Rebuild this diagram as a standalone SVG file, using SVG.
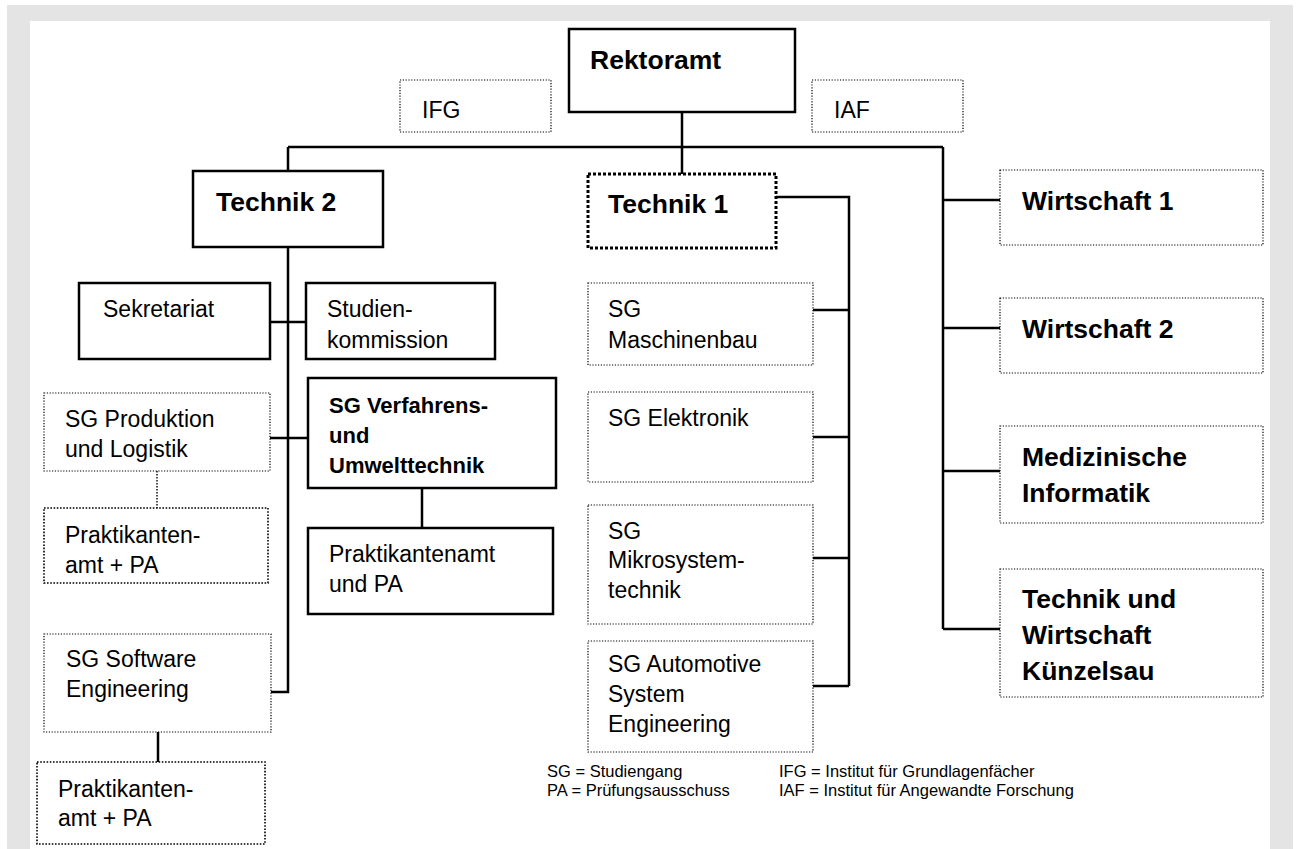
<svg xmlns="http://www.w3.org/2000/svg" width="1298" height="849" viewBox="0 0 1298 849">
<style>
text{font-family:"Liberation Sans",Arial,sans-serif;fill:#000}
.h{font-size:26.5px;font-weight:bold}
.hb{font-size:22px;font-weight:bold}
.t{font-size:23px}
.lg{font-size:16.5px}
.solid{fill:#fff;stroke:#000;stroke-width:2.5}
.dot{fill:#fff;stroke:#000;stroke-width:1.2;stroke-dasharray:1.2 1.6}
.dotm{fill:#fff;stroke:#000;stroke-width:1.6;stroke-dasharray:1.6 1.6}
.dotb{fill:#fff;stroke:#000;stroke-width:3;stroke-dasharray:3 2}
.c{fill:none;stroke:#000;stroke-width:2.5}
.cd{fill:none;stroke:#000;stroke-width:1.4;stroke-dasharray:1.4 1.6}
</style>
<rect x="0" y="0" width="1298" height="849" fill="#fff"/>
<rect x="7" y="5" width="1286" height="844" fill="#e4e4e4"/>
<rect x="30" y="21" width="1240" height="828" fill="#fff"/>

<g id="connectors">
<path class="c" d="M682 112V174"/>
<path class="c" d="M288 147H943"/>
<path class="c" d="M288 147V171M288 247V692H271"/>
<path class="c" d="M270 322H306"/>
<path class="c" d="M270 438H308"/>
<path class="c" d="M422 488V528"/>
<path class="c" d="M158 732V762"/>
<path class="cd" d="M157 471V508"/>
<path class="c" d="M776 197H849V686"/>
<path class="c" d="M813 310H849M813 437H849M813 558H849M808 686H849"/>
<path class="c" d="M943 147V629M943 200H1000M943 328H1000M943 471H1000M943 629H1000"/>
</g>

<g id="rektoramt"><rect class="solid" x="569" y="29" width="226" height="83"/><text class="h" x="590" y="69">Rektoramt</text></g>
<g id="ifg"><rect class="dot" x="400" y="80" width="151" height="52"/><text class="t" x="422" y="118">IFG</text></g>
<g id="iaf"><rect class="dot" x="812" y="80" width="151" height="52"/><text class="t" x="834" y="118">IAF</text></g>

<g id="technik2"><rect class="solid" x="193" y="171" width="190" height="76"/><text class="h" x="216" y="211">Technik 2</text></g>
<g id="sekretariat"><rect class="solid" x="79" y="283" width="191" height="76"/><text class="t" x="103" y="317">Sekretariat</text></g>
<g id="studienkommission"><rect class="solid" x="306" y="283" width="189" height="76"/><text class="t" x="327" y="317">Studien-</text><text class="t" x="327" y="348">kommission</text></g>
<g id="sg-produktion"><rect class="dot" x="44" y="393" width="226" height="78"/><text class="t" x="65" y="427">SG Produktion</text><text class="t" x="65" y="457">und Logistik</text></g>
<g id="sg-verfahren"><rect class="solid" x="308" y="378" width="248" height="110"/><text class="hb" x="329" y="413">SG Verfahrens-</text><text class="hb" x="329" y="443">und</text><text class="hb" x="329" y="473">Umwelttechnik</text></g>
<g id="praktikanten-1"><rect class="dotm" x="44" y="508" width="224" height="75"/><text class="t" x="65" y="543">Praktikanten-</text><text class="t" x="65" y="573">amt + PA</text></g>
<g id="praktikantenamt-pa"><rect class="solid" x="308" y="528" width="245" height="86"/><text class="t" x="329" y="562">Praktikantenamt</text><text class="t" x="329" y="592">und PA</text></g>
<g id="sg-software"><rect class="dot" x="44" y="634" width="227" height="98"/><text class="t" x="66" y="667">SG Software</text><text class="t" x="66" y="697">Engineering</text></g>
<g id="praktikanten-2"><rect class="dotm" x="37" y="762" width="228" height="82"/><text class="t" x="58" y="797">Praktikanten-</text><text class="t" x="58" y="826">amt + PA</text></g>

<g id="technik1"><rect class="dotb" x="588" y="174" width="188" height="74"/><text class="h" x="608" y="213">Technik 1</text></g>
<g id="sg-maschinenbau"><rect class="dot" x="588" y="283" width="225" height="82"/><text class="t" x="608" y="317">SG</text><text class="t" x="608" y="348">Maschinenbau</text></g>
<g id="sg-elektronik"><rect class="dot" x="588" y="392" width="225" height="90"/><text class="t" x="608" y="426">SG Elektronik</text></g>
<g id="sg-mikrosystem"><rect class="dot" x="588" y="505" width="225" height="119"/><text class="t" x="608" y="539">SG</text><text class="t" x="608" y="568">Mikrosystem-</text><text class="t" x="608" y="598">technik</text></g>
<g id="sg-automotive"><rect class="dot" x="588" y="641" width="225" height="111"/><text class="t" x="608" y="672">SG Automotive</text><text class="t" x="608" y="702">System</text><text class="t" x="608" y="732">Engineering</text></g>

<g id="wirtschaft1"><rect class="dot" x="1000" y="170" width="263" height="75"/><text class="h" x="1022" y="210">Wirtschaft 1</text></g>
<g id="wirtschaft2"><rect class="dot" x="1000" y="298" width="263" height="75"/><text class="h" x="1022" y="338">Wirtschaft 2</text></g>
<g id="medizinische-informatik"><rect class="dot" x="1000" y="426" width="263" height="97"/><text class="h" x="1022" y="466">Medizinische</text><text class="h" x="1022" y="502">Informatik</text></g>
<g id="technik-wirtschaft-kuenzelsau"><rect class="dot" x="1000" y="569" width="263" height="128"/><text class="h" x="1022" y="608">Technik und</text><text class="h" x="1022" y="644">Wirtschaft</text><text class="h" x="1022" y="680">Künzelsau</text></g>

<g id="legend">
<text class="lg" x="547" y="777">SG = Studiengang</text>
<text class="lg" x="547" y="796">PA = Prüfungsausschuss</text>
<text class="lg" x="779" y="777">IFG = Institut für Grundlagenfächer</text>
<text class="lg" x="779" y="796">IAF = Institut für Angewandte Forschung</text>
</g>
</svg>
